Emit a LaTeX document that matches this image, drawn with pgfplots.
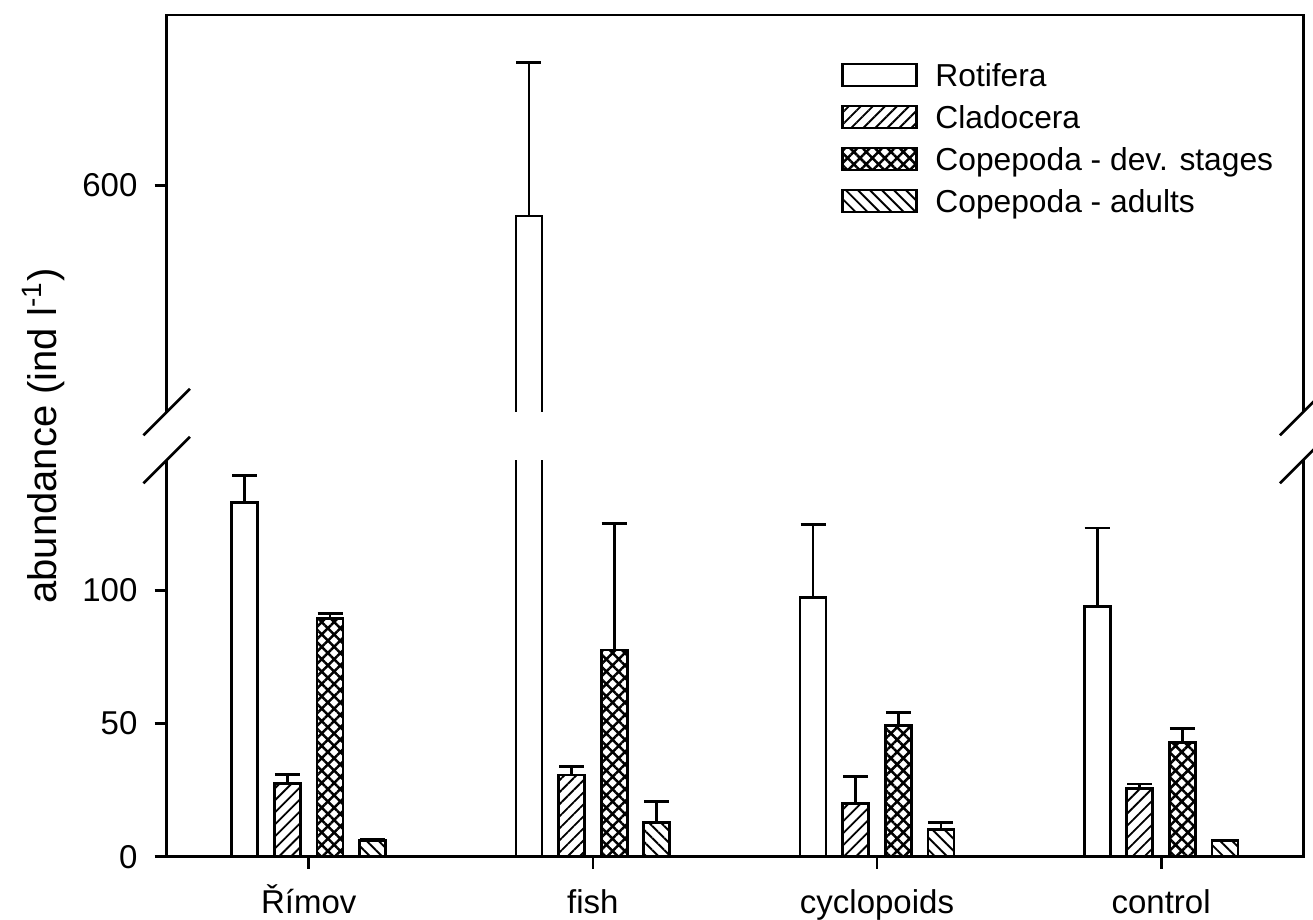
\documentclass[border=0pt]{standalone}
\usepackage{fontspec}
\setmainfont{Liberation Sans}
\usepackage{pgfplots}
\pgfplotsset{compat=1.18}
\usepackage{pgfplotstable}
\usetikzlibrary{patterns.meta}

% group index g, mean y, upper error e
\pgfplotstableread{
g y e
0 133.0 10.0
1 588.5 57.5
2 97.2 27.6
3 93.8 29.6
}\rotifera
\pgfplotstableread{
g y e
0 27.5 3.5
1 30.7 3.1
2 20.0 10.2
3 25.5 1.8
}\cladocera
\pgfplotstableread{
g y e
0 89.5 1.9
1 77.6 47.5
2 49.2 5.0
3 42.8 5.2
}\copdev
\pgfplotstableread{
g y e
0 6.0 0.5
1 12.8 7.8
2 10.3 2.5
3 6.0 0.3
}\copad

\tikzset{
  fRot/.style={draw=black, line width=1.1pt, fill=white},
  fCla/.style={draw=black, line width=1.1pt, pattern={Lines[angle=45, distance=3.4pt, line width=0.75pt]}, pattern color=black},
  fDev/.style={draw=black, line width=1.1pt, pattern={Hatch[angle=45, distance=3.5pt, line width=1pt]}, pattern color=black},
  fAdu/.style={draw=black, line width=1.1pt, pattern={Lines[angle=-45, distance=3.4pt, line width=0.75pt]}, pattern color=black},
}
\pgfplotsset{
  barbase/.style={ybar, bar width=0.0916,
    error bars/y dir=plus, error bars/y explicit,
    error bars/error bar style={line width=1.1pt, black},
    error bars/error mark options={rotate=90, line width=1.1pt, mark size=5pt, black}},
}

\begin{document}
\begin{tikzpicture}
\begin{axis}[at={(0pt,0pt)}, anchor=south west,
  width=454.6pt, height=336.68pt, scale only axis,
  xmin=-0.5, xmax=3.5,
  ymin=0, ymax=663.9,
  % broken axis: 148.9..514.9 removed, 18.02 units of gap
  y coord trafo/.code={\pgfmathparse{#1>300 ? #1-347.98 : #1}},
  y coord inv trafo/.code={\pgfmathparse{#1>157.9 ? #1+347.98 : #1}},
  ytick={0,50,100,600}, yticklabels={0,50,100,600},
  xtick={0,1,2,3}, xticklabels={Římov,fish,cyclopoids,control},
  tick pos=left, tick align=outside, major tick length=4.8pt,
  axis line style={line width=1.1pt, black},
  every tick/.style={black, line width=1.1pt},
  tick label style={font=\fontsize{13.2}{15}\selectfont},
  yticklabel style={anchor=east, inner sep=0pt, xshift=-6.7pt},
  xticklabel style={anchor=base, inner sep=0pt, yshift=-17.7pt},
]
\addplot[barbase, fRot] table[x expr=\thisrow{g}-0.225, y=y, y error=e] {\rotifera};
\addplot[barbase, fCla] table[x expr=\thisrow{g}-0.075, y=y, y error=e] {\cladocera};
\addplot[barbase, fDev] table[x expr=\thisrow{g}+0.075, y=y, y error=e] {\copdev};
\addplot[barbase, fAdu] table[x expr=\thisrow{g}+0.225, y=y, y error=e] {\copad};
\end{axis}
% gap of the broken axis
\fill[white] (-1.2pt,158.67pt) rectangle (455.8pt,177.87pt);
\foreach \xx in {0pt,454.6pt}{
  \draw[line width=1.1pt] ([xshift=\xx]-9.3pt,168.6pt) -- ([xshift=\xx]9.3pt,187.2pt);
  \draw[line width=1.1pt] ([xshift=\xx]-9.3pt,149.4pt) -- ([xshift=\xx]9.3pt,168.0pt);
}
% legend
\begin{scope}[font=\fontsize{12.7}{15}\selectfont]
\draw[fRot] (270.4pt,308.28pt) rectangle (300.0pt,317.08pt);
\node[anchor=base west, inner sep=0pt] at (307.3pt,307.98pt) {Rotifera};
\draw[fCla] (270.4pt,291.48pt) rectangle (300.0pt,300.28pt);
\node[anchor=base west, inner sep=0pt] at (307.3pt,291.18pt) {Cladocera};
\draw[fDev] (270.4pt,274.68pt) rectangle (300.0pt,283.48pt);
\node[anchor=base west, inner sep=0pt] at (307.3pt,274.38pt) {Copepoda - dev. stages};
\draw[fAdu] (270.4pt,257.88pt) rectangle (300.0pt,266.68pt);
\node[anchor=base west, inner sep=0pt] at (307.3pt,257.58pt) {Copepoda - adults};
\end{scope}
% y axis title
\node[rotate=90, anchor=base, inner sep=0pt, font=\fontsize{16}{19}\selectfont] at (-43.9pt,168.35pt) {abundance (ind l\textsuperscript{-1})};
\pgfresetboundingbox
\path[use as bounding box] (-66.68pt,-24.92pt) rectangle (458.52pt,342.7pt);
\end{tikzpicture}
\end{document}
